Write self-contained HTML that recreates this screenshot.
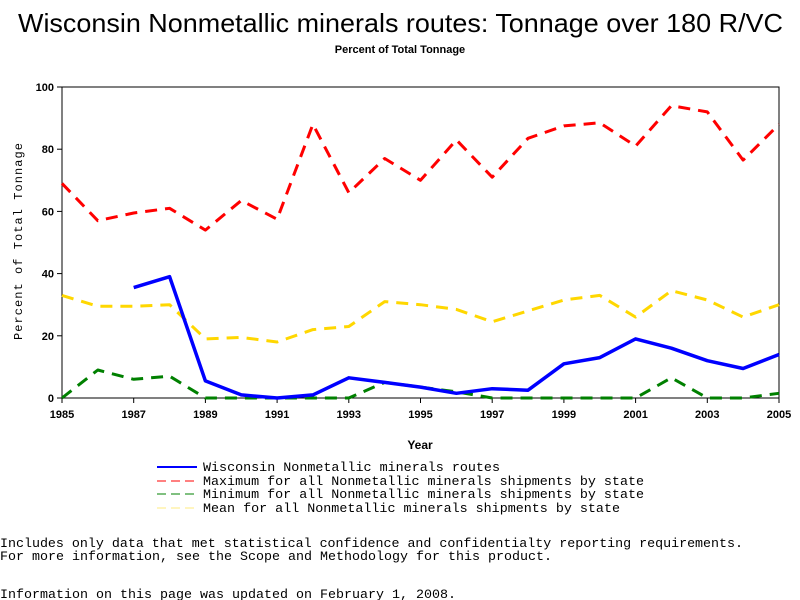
<!DOCTYPE html>
<html><head><meta charset="utf-8"><style>
body{margin:0;background:#fff;width:800px;height:600px;overflow:hidden}
svg{display:block}
</style></head><body>
<svg width="800" height="600" xmlns="http://www.w3.org/2000/svg">
<text x="18" y="32" textLength="765" lengthAdjust="spacingAndGlyphs" font-family="Liberation Sans, sans-serif" font-size="26">Wisconsin Nonmetallic minerals routes: Tonnage over 180 R/VC</text>
<text x="400" y="53" text-anchor="middle" font-family="Liberation Sans, sans-serif" font-size="11" font-weight="bold">Percent of Total Tonnage</text>
<g id="axes"></g>
<g id="marks"></g>
<text transform="translate(22,340) rotate(-90)" textLength="197" lengthAdjust="spacing" font-family="Liberation Mono, monospace" font-size="12">Percent of Total Tonnage</text>
<text x="420" y="449" text-anchor="middle" font-family="Liberation Sans, sans-serif" font-size="12" font-weight="bold">Year</text>
<g font-family="Liberation Mono, monospace" font-size="13.3">
<g><line x1="157" y1="467" x2="197" y2="467" stroke="#0000ff" stroke-width="2"/><text x="203" y="471" textLength="297" lengthAdjust="spacingAndGlyphs">Wisconsin Nonmetallic minerals routes</text></g>
<g><line x1="157" y1="481" x2="197" y2="481" stroke="#ff0000" stroke-dasharray="9,5"/><text x="203" y="485" textLength="441" lengthAdjust="spacingAndGlyphs">Maximum for all Nonmetallic minerals shipments by state</text></g>
<g><line x1="157" y1="494" x2="197" y2="494" stroke="#008000" stroke-dasharray="9,5"/><text x="203" y="498" textLength="441" lengthAdjust="spacingAndGlyphs">Minimum for all Nonmetallic minerals shipments by state</text></g>
<g><line x1="157" y1="508" x2="197" y2="508" stroke="#ffd700" stroke-dasharray="9,5" stroke-opacity="0.5"/><text x="203" y="512" textLength="417" lengthAdjust="spacingAndGlyphs">Mean for all Nonmetallic minerals shipments by state</text></g>
</g>
<g font-family="Liberation Mono, monospace" font-size="13.3">
<text x="0" y="547" textLength="743" lengthAdjust="spacingAndGlyphs">Includes only data that met statistical confidence and confidentialty reporting requirements.</text>
<text x="0" y="560" textLength="552" lengthAdjust="spacingAndGlyphs">For more information, see the Scope and Methodology for this product.</text>
<text x="0" y="598" textLength="456" lengthAdjust="spacingAndGlyphs">Information on this page was updated on February 1, 2008.</text>
</g>
</svg>
<script>
const years=[1985,1986,1987,1988,1989,1990,1991,1992,1993,1994,1995,1996,1997,1998,1999,2000,2001,2002,2003,2004,2005];
const maxVals=[69,57,59.5,61,54,63.5,57.5,88,66,77,70,83,71,83.5,87.5,88.5,81,94,92,76.5,88];
const meanVals=[33,29.5,29.5,30,19,19.5,18,22,23,31,30,28.5,24.5,28,31.5,33,26,34.5,31.5,26,30];
const wiVals=[null,null,35.5,39,5.5,1,0,1,6.5,5,3.5,1.5,3,2.5,11,13,19,16,12,9.5,14];
const minVals=[0,9,6,7,0,0,0,0,0,5,3.5,2,0,0,0,0,0,6.5,0,0,1.5];
const yTicks=[0,20,40,60,80,100];
const xTicks=[1985,1987,1989,1991,1993,1995,1997,1999,2001,2003,2005];
const X0=62,X1=779,Y0=398,Y1=87;
function xs(v){return X0+(v-1985)/(2005-1985)*(X1-X0);}
function ys(v){return Y0-(v/100)*(Y0-Y1);}
const NS='http://www.w3.org/2000/svg';
function mk(t,a,p){const e=document.createElementNS(NS,t);for(const k in a)e.setAttribute(k,a[k]);p.appendChild(e);return e;}
const ax=document.getElementById('axes');
const frame=mk('rect',{x:X0,y:Y1,width:X1-X0,height:Y0-Y1,fill:'none',stroke:'#000','stroke-width':1},ax);


yTicks.forEach(v=>{
  const l=mk('line',{x1:X0-5,x2:X0,y1:ys(v),y2:ys(v),stroke:'#000'},ax);
  
  
  const t=mk('text',{x:X0-8,y:ys(v)+4,'text-anchor':'end','font-family':'Liberation Sans, sans-serif','font-size':11,'font-weight':'bold'},ax);
  t.textContent=v;
  
  
});
xTicks.forEach(v=>{
  const l=mk('line',{x1:xs(v),x2:xs(v),y1:Y0,y2:Y0+5,stroke:'#000'},ax);
  
  
  const t=mk('text',{x:xs(v),y:Y0+20,'text-anchor':'middle','font-family':'Liberation Sans, sans-serif','font-size':11,'font-weight':'bold'},ax);
  t.textContent=v;
  
  
});
const mg=document.getElementById('marks');
function series(vals,color,w,dash,name){
  let d='';let pen=false;
  vals.forEach((v,i)=>{if(v===null){pen=false;return;}d+=(pen?'L':'M')+xs(years[i]).toFixed(1)+','+ys(v).toFixed(1);pen=true;});
  const p=mk('path',{d:d,fill:'none',stroke:color,'stroke-width':w,'stroke-linejoin':'round'},mg);
  if(dash)p.setAttribute('stroke-dasharray',dash);
  
  
}
series(maxVals,'#ff0000',3,'12,8','line-maximum');
series(meanVals,'#ffd700',3,'12,8','line-mean');
series(minVals,'#008000',3,'12,8','line-minimum');
series(wiVals,'#0000ff',3.5,null,'line-wisconsin');
</script>
</body></html>
